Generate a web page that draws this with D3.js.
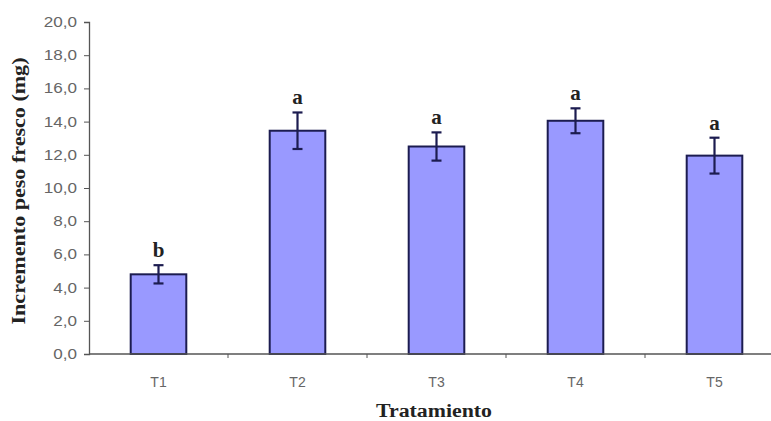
<!DOCTYPE html>
<html><head><meta charset="utf-8">
<script src="https://cdn.jsdelivr.net/npm/d3@7"></script>
<style>body{margin:0;background:#fff}svg{display:block}</style>
</head><body>
<svg id="c" width="771" height="421"></svg>
<script>
const categories = ["T1","T2","T3","T4","T5"];
const means = [4.8, 13.45, 12.5, 14.05, 11.95];
const errors = [0.55, 1.1, 0.85, 0.75, 1.08];
const letters = ["b","a","a","a","a"];
const yTicks = [0,2,4,6,8,10,12,14,16,18,20];

(function(){
const svg = d3.select("#c");
const pL = 89, pR = 784, pT = 22, pB = 354;
const x = d3.scaleBand().domain(categories).range([pL, pR]).paddingInner(0.6).paddingOuter(0.3);
const xb = d3.scaleBand().domain(categories).range([pL, pR]);
const y = d3.scaleLinear().domain([0,20]).range([pB, pT]);
const stretch = sel => sel.each(function(){ const w = this.getComputedTextLength(); d3.select(this).attr("textLength", w*1.22).attr("lengthAdjust","spacingAndGlyphs"); });

// y axis
const ya = svg.append("g").attr("transform",`translate(${pL},0)`)
  .call(d3.axisLeft(y).tickValues(yTicks).tickSize(5).tickPadding(7).tickFormat(d => d3.format(".1f")(d).replace(".", ",")));
ya.select(".domain").attr("stroke","#555").attr("stroke-width",1.3);
ya.selectAll(".tick line").attr("stroke","#555");
ya.selectAll(".tick text").attr("font-family","Liberation Sans, Arial, sans-serif").attr("font-size",14).attr("fill","#666").call(stretch);

// bars
svg.selectAll("rect.bar").data(categories).join("rect")
  .attr("x", d => x(d)).attr("width", x.bandwidth())
  .attr("y", (d,i) => y(means[i])).attr("height", (d,i) => y(0) - y(means[i]))
  .attr("fill","#9999ff").attr("stroke","#1c1c50").attr("stroke-width",2);

// x axis
svg.append("line").attr("x1",pL).attr("x2",771).attr("y1",pB).attr("y2",pB).attr("stroke","#555").attr("stroke-width",1.3);
svg.selectAll("line.xt").data(categories.slice(1)).join("line")
  .attr("x1", d => xb(d)).attr("x2", d => xb(d)).attr("y1", pB).attr("y2", pB+4)
  .attr("stroke","#555");
svg.selectAll("text.xl").data(categories).join("text")
  .attr("x", d => xb(d) + xb.bandwidth()/2).attr("y", 387).attr("text-anchor","middle")
  .attr("font-family","Liberation Sans, Arial, sans-serif").attr("font-size",14).attr("fill","#666").text(d => d);

// error bars
const eb = svg.selectAll("g.eb").data(categories).join("g");
eb.append("line").attr("x1", d => x(d)+x.bandwidth()/2).attr("x2", d => x(d)+x.bandwidth()/2)
  .attr("y1",(d,i)=>y(means[i]+errors[i])).attr("y2",(d,i)=>y(means[i]-errors[i]))
  .attr("stroke","#1c1c50").attr("stroke-width",2.2);
[1,-1].forEach(s => {
  eb.append("line").attr("x1", d => x(d)+x.bandwidth()/2-5).attr("x2", d => x(d)+x.bandwidth()/2+5)
    .attr("y1",(d,i)=>y(means[i]+s*errors[i])).attr("y2",(d,i)=>y(means[i]+s*errors[i]))
    .attr("stroke","#1c1c50").attr("stroke-width",2.2);
});

// letters
svg.selectAll("text.lt").data(categories).join("text")
  .attr("x", d => x(d)+x.bandwidth()/2).attr("y",(d,i)=>y(means[i]+errors[i]) - 8)
  .attr("text-anchor","middle").attr("font-family","Liberation Serif, Times New Roman, serif")
  .attr("font-weight","bold").attr("font-size",21).attr("fill","#222").text((d,i)=>letters[i]);

// titles
svg.append("text").attr("transform","translate(25,191) rotate(-90)").attr("text-anchor","middle")
  .attr("font-family","Liberation Serif, Times New Roman, serif").attr("font-weight","bold").attr("font-size",19).attr("fill","#222")
  .attr("textLength",267).attr("lengthAdjust","spacingAndGlyphs")
  .text("Incremento peso fresco (mg)");
svg.append("text").attr("x",434).attr("y",417).attr("text-anchor","middle")
  .attr("font-family","Liberation Serif, Times New Roman, serif").attr("font-weight","bold").attr("font-size",18).attr("fill","#222")
  .attr("textLength",116).attr("lengthAdjust","spacingAndGlyphs")
  .text("Tratamiento");
})();
</script>
</body></html>
